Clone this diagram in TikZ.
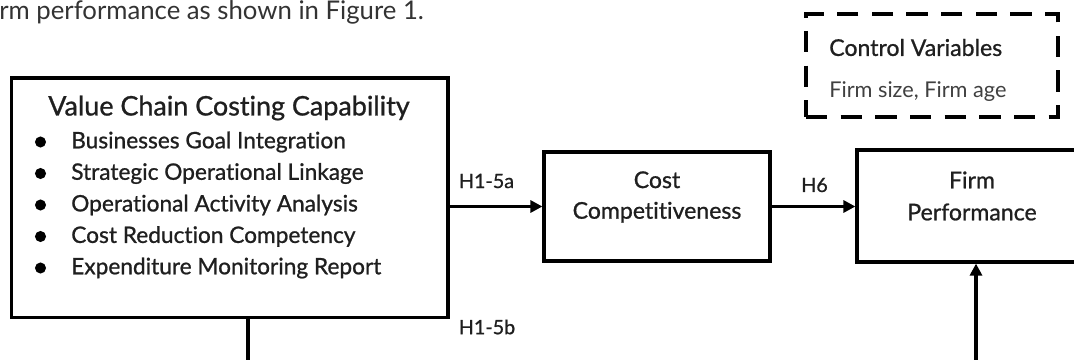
\documentclass[tikz,border=0pt]{standalone}
\usepackage{fontspec}
\setmainfont{Lato}[RawFeature={-liga}]
\newfontfamily\medfont{Lato}[FakeBold=0.9,RawFeature={-liga}]
\usetikzlibrary{arrows.meta}
\tikzset{
  box/.style={draw=black, line width=2.4pt, fill=white, inner sep=0pt},
  dbox/.style={draw=black, line width=2.4pt, dash pattern=on 16pt off 10pt, inner sep=0pt},
  conn/.style={line width=2.4pt, -{Triangle[length=9pt,width=9pt]}},
  txt/.style={inner sep=0pt, text=black!88},
  itm/.style={inner sep=0pt, anchor=west, font=\medfont\fontsize{17}{19}\selectfont, text=black!88},
  lbl/.style={inner sep=0pt, font=\medfont\fontsize{14.8}{16}\selectfont, text=black!88},
  dot/.style={circle, fill=black, inner sep=0pt, minimum size=8.3pt}
}
\begin{document}
\begin{tikzpicture}[x=0.75pt,y=-0.75pt]
\useasboundingbox (0,0) rectangle (1074,360);
\node[inner sep=0pt, anchor=west, font=\fontsize{19.3}{21}\selectfont, text=black!80] (intro) at (-1,12) {rm performance as shown in Figure 1.};
% boxes
\node[box, minimum width=327.4pt, minimum height=179.6pt] (main) at (229.75,197.75) {};
\node[box, minimum width=169.5pt, minimum height=81.75pt] (cost) at (657,206.5) {};
\node[box, minimum width=172.5pt, minimum height=84pt] (firm) at (972,206) {};
\node[dbox, minimum width=189pt, minimum height=77.25pt] (ctrl) at (932,65.5) {};
% main text
\node[txt, font=\medfont\fontsize{20.2}{22}\selectfont] (head) at (229,108) {Value Chain Costing Capability};
\foreach \i/\t in {1/Businesses Goal Integration,2/Strategic Operational Linkage,3/Operational Activity Analysis,4/Cost Reduction Competency,5/Expenditure Monitoring Report}{
  \node[dot] (b\i) at (40.5,{142+31.5*(\i-1)}) {};
  \node[itm] (i\i) at (71,{142+31.5*(\i-1)}) {\t};
}
% other texts
\node[txt, align=center, font=\medfont\fontsize{17.3}{23}\selectfont] (costt) at (657,197) {Cost\\Competitiveness};
\node[txt, align=center, font=\medfont\fontsize{17.3}{24}\selectfont] (firmt) at (972,196) {Firm\\Performance};
\node[txt, anchor=west, font=\medfont\fontsize{17.3}{19}\selectfont] (ctrlh) at (829,47.5) {Control Variables};
\node[txt, anchor=west, font=\fontsize{16.3}{18}\selectfont, text=black!75] (ctrlb) at (829,92) {Firm size, Firm age};
% connectors
\draw[conn] (main.east |- cost.west) -- (cost.west);
\draw[conn] (cost.east) -- (firm.west |- cost.east);
\coordinate (c1) at (248,361.2);
\coordinate (c2) at (976,361.2);
\draw[conn] (main.south -| c1) -- (c1) -- (c2) -- (firm.south -| c2);
% labels
\node[lbl] (l1) at (486.5,181) {H1-5a};
\node[lbl] (l2) at (814.5,185) {H6};
\node[lbl] (l3) at (487,327) {H1-5b};
\end{tikzpicture}
\end{document}
